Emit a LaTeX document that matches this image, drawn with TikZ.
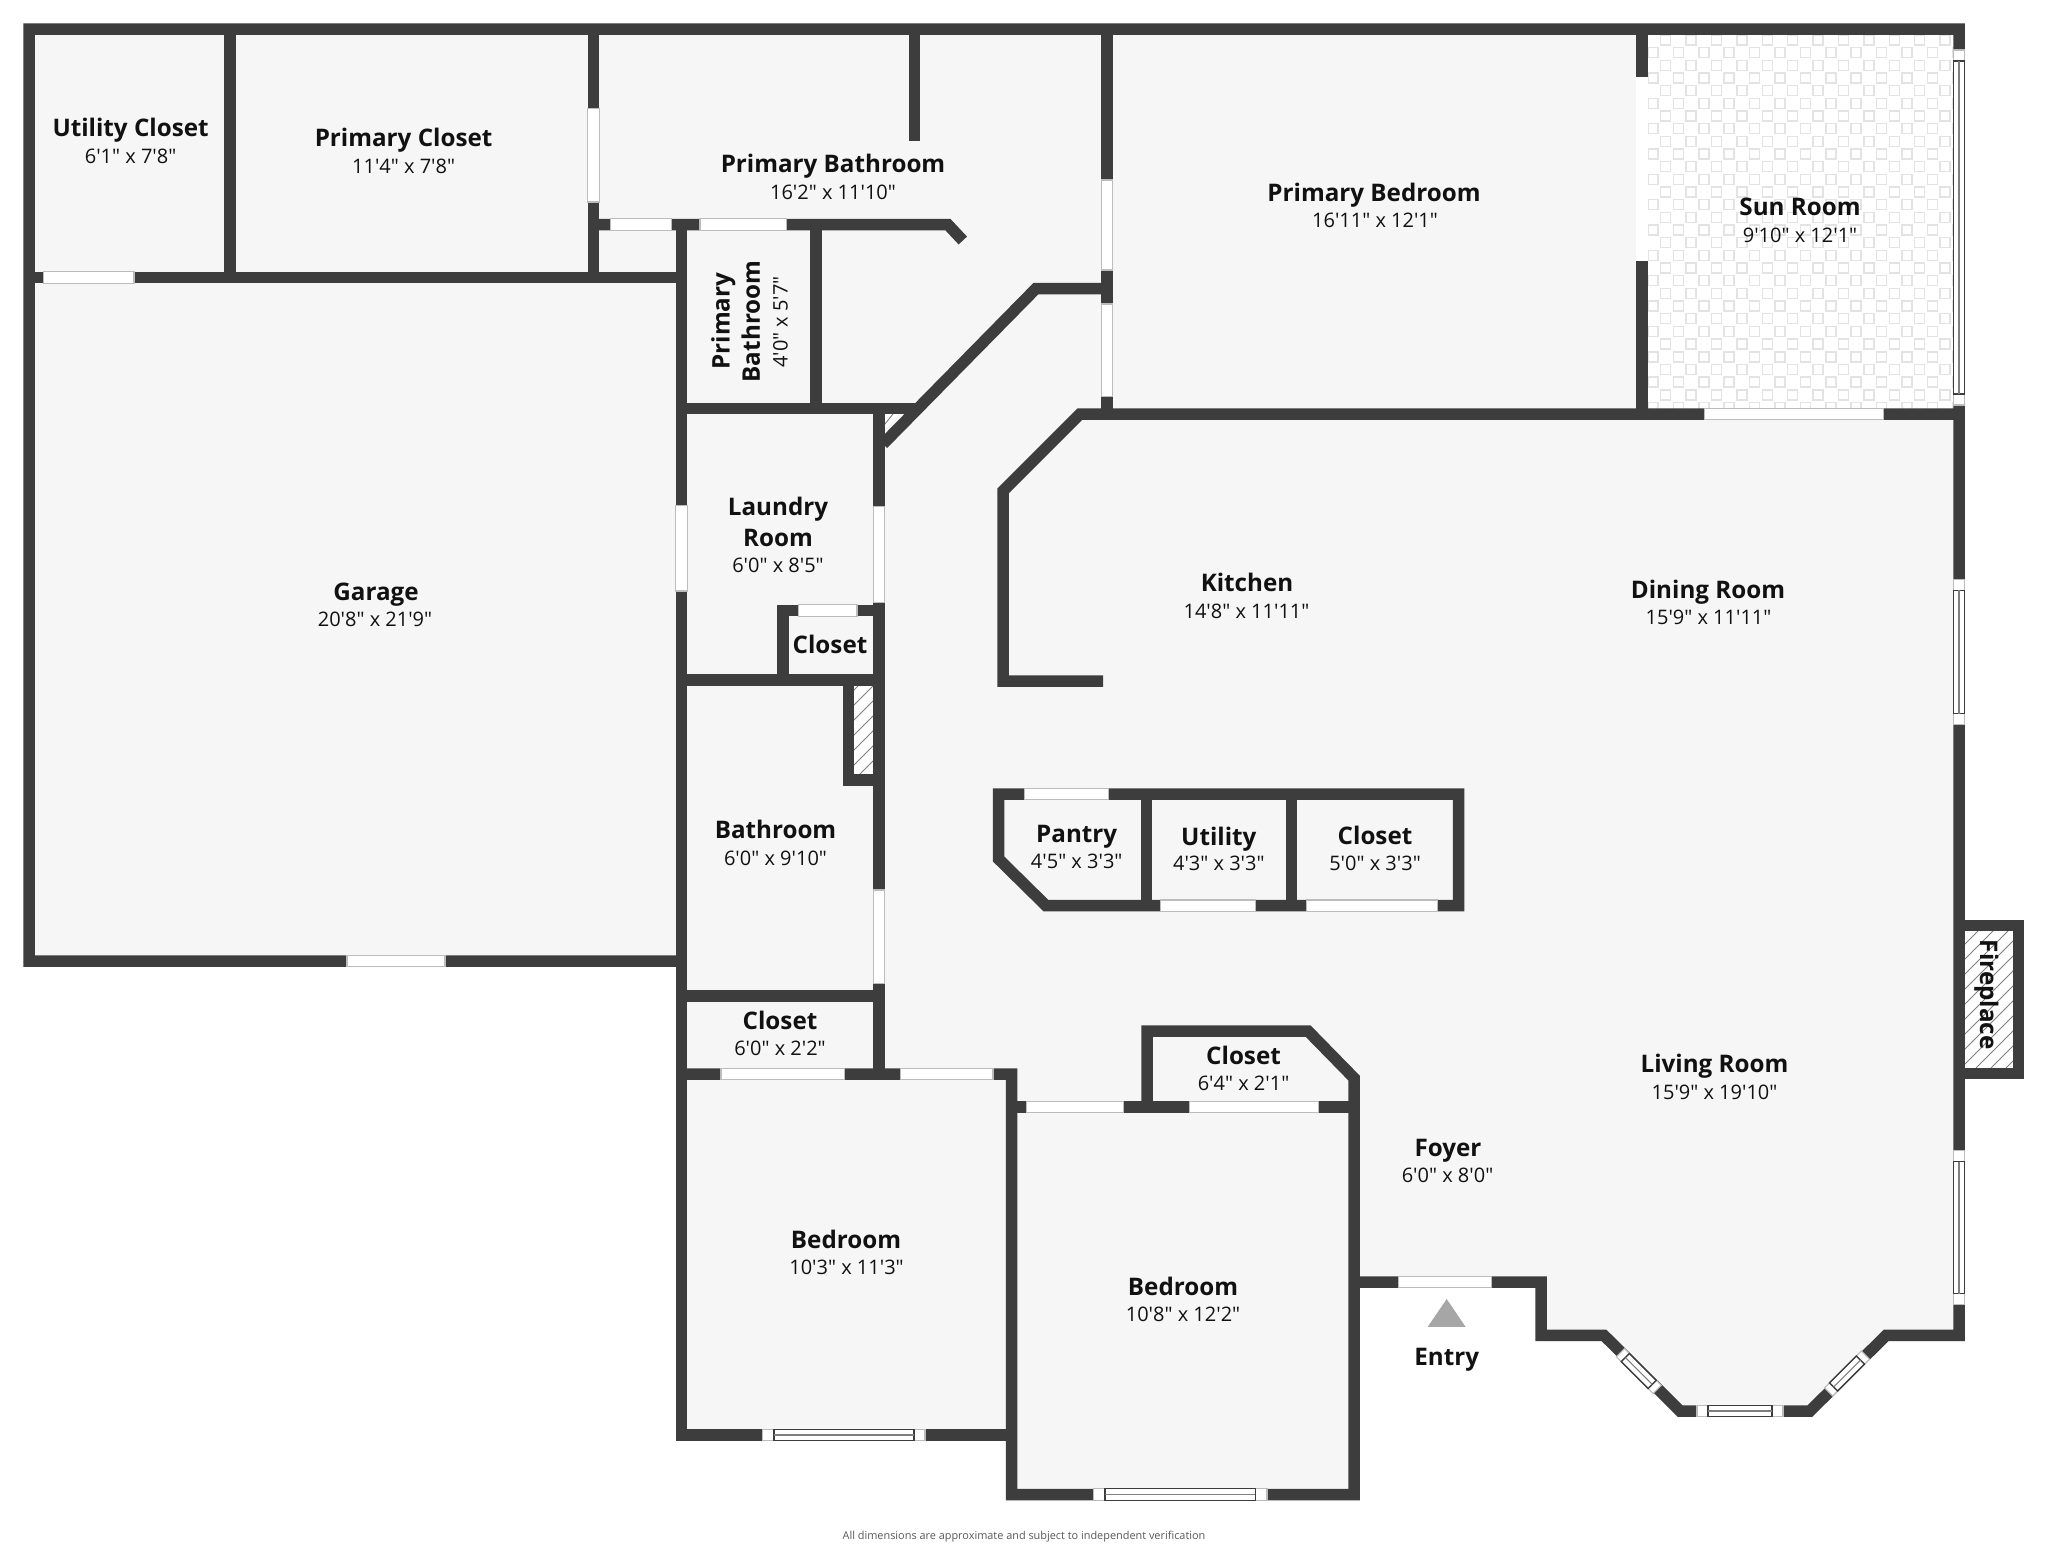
\documentclass[tikz,border=0pt]{standalone}
\usepackage{fontspec}
\newfontfamily\planfont{Open Sans}
\definecolor{wallc}{HTML}{3D3D3D}
\definecolor{floorc}{HTML}{F6F6F6}
\definecolor{edgec}{HTML}{BCBCBC}
\definecolor{tilec}{HTML}{E3E3E3}
\definecolor{hatchc}{HTML}{7F7F7F}
\definecolor{textc}{HTML}{111111}
\tikzset{
  wall/.style={draw=wallc,line width=5.75pt,line join=miter},
  rname/.style={font=\planfont\bfseries\fontsize{12.1}{14}\selectfont,text=textc,inner sep=0pt,text height=8.8pt,text depth=0pt},
  rdim/.style={font=\planfont\fontsize{10}{12}\selectfont,text=textc,inner sep=0pt,text height=7.2pt,text depth=0pt},
  opening/.style={fill=white,draw=edgec,line width=0.55pt},
  winframe/.style={draw=wallc,line width=0.7pt},
  winmid/.style={draw=hatchc,line width=0.55pt},
  hatchline/.style={draw=hatchc,line width=0.45pt},
}
\newcommand{\planwin}[5]{%
  \begin{scope}[shift={(#1,#2)},rotate=#3]
    \path[opening] ({-(#4)/2},-5.75) rectangle ({(#4)/2},5.75);
    \draw[winframe] ({-(#4)/2+#5},-5.75) rectangle ({(#4)/2-#5},5.75);
    \draw[winmid] ({-(#4)/2+#5},0) -- ({(#4)/2-#5},0);
  \end{scope}}
\newcommand{\planhopen}[3]{\path[opening] (#1,#3-5.75) rectangle (#2,#3+5.75);}
\newcommand{\planvopen}[3]{\path[opening] (#3-5.6,#1) rectangle (#3+5.6,#2);}
\begin{document}
\begin{tikzpicture}[x=0.5pt,y=-0.5pt]
\useasboundingbox (0,0) rectangle (2048,1547);
\fill[white] (0,0) rectangle (2048,1547);
% floor
\fill[floorc] (23,23) -- (1965,23) -- (1965,1341) -- (1886,1341) -- (1813,1417) -- (1677,1417) -- (1604,1341) -- (1541,1341) -- (1541,1282) -- (1354,1282) -- (1354,1500) -- (1011,1500) -- (1011,1441) -- (681,1441) -- (681,967) -- (23,967) -- cycle;
% sun room tiles
\fill[white] (1642,29) rectangle (1959,414);
\begin{scope}
  \clip (1648,35) rectangle (1954,408);
  \foreach \r in {0,...,15}{
    \foreach \c in {0,...,12}{
      \pgfmathsetmacro{\xa}{1660.7+25.4*\c}
      \pgfmathsetmacro{\ya}{35+25.34*\r}
      \pgfmathsetmacro{\xb}{1648+25.4*\c}
      \pgfmathsetmacro{\yb}{47.67+25.34*\r}
      \draw[tilec,line width=0.75pt] (\xa,\ya) rectangle ++(10,10);
      \draw[tilec,line width=0.75pt] (\xb,\yb) rectangle ++(10,10);
    }
  }
\end{scope}
% hatched chases
\fill[white] (854,686) rectangle (873.5,774);
\begin{scope}
  \clip (854,686) rectangle (873.5,774);
  \foreach \k in {0,...,9}{
    \pgfmathsetmacro{\xh}{770+15*\k}
    \draw[hatchline] (\xh,774) -- ++(88,-88);
  }
\end{scope}
\fill[white] (1964.5,931.4) rectangle (2013,1068);
\begin{scope}
  \clip (1964.5,931.4) rectangle (2013,1068);
  \foreach \k in {0,...,13}{
    \pgfmathsetmacro{\xh}{1826+15*\k}
    \draw[hatchline] (\xh,1068) -- ++(137,-137);
  }
\end{scope}
\fill[white] (885,414) -- (899,414) -- (885,430) -- cycle;
\draw[hatchline] (885,424) -- (893,414);
% walls
\draw[wall] (681.5,961) -- (29,961) -- (29,29) -- (1959,29) -- (1959,1335.4) -- (1886,1335.4) -- (1810,1411) -- (1680,1411) -- (1604,1335.4) -- (1541,1335.4) -- (1541,1282) -- (1354,1282);
\draw[wall] (29,277.5) -- (681.5,277.5);
\draw[wall] (230,29) -- (230,277.5);
\draw[wall] (593.5,29) -- (593.5,277.5);
\draw[wall] (914.4,29) -- (914.4,140.7);
\draw[wall] (1107,29) -- (1107,414);
\draw[wall] (1642,29) -- (1642,414);
\draw[wall] (593.5,224.5) -- (947.8,224.5) -- (962.8,240.5);
\draw[wall] (681.5,224.5) -- (681.5,1435) -- (1011.5,1435);
\draw[wall] (816,224.5) -- (816,408.5);
\draw[wall] (681.5,408.5) -- (916,408.5);
\draw[wall] (883,444) -- (1036,288.5) -- (1107,288.5);
\draw[wall] (1103,681) -- (1003,681) -- (1003,491) -- (1080,414) -- (1959,414);
\draw[wall] (879,408.5) -- (879,1074);
\draw[wall] (681.5,680) -- (879,680);
\draw[wall] (783,680) -- (783,610.5) -- (884.5,610.5);
\draw[wall] (848.4,680) -- (848.4,780) -- (879,780);
\draw[wall] (681.5,996) -- (879,996);
\draw[wall] (681.5,1074) -- (1011.5,1074) -- (1011.5,1494.5) -- (1354,1494.5) -- (1354,1078) -- (1308,1031) -- (1147,1031) -- (1147,1107);
\draw[wall] (1011.5,1107) -- (1354,1107);
\draw[wall] (998.6,794) -- (1458.5,794) -- (1458.5,905.7) -- (1046,905.7) -- (998.6,859) -- cycle;
\draw[wall] (1146.5,794) -- (1146.5,905.7);
\draw[wall] (1291.5,794) -- (1291.5,905.7);
\draw[wall] (1959,925.5) -- (2018.5,925.5) -- (2018.5,1073.7) -- (1959,1073.7);
% openings
\planhopen{43.8}{134}{277.5}
\planhopen{610.7}{671.4}{224.5}
\planhopen{700}{786.4}{224.5}
\planhopen{1704.6}{1883.6}{414}
\planhopen{347}{445}{961}
\planhopen{798.4}{857}{610.5}
\planhopen{1024.5}{1108.6}{794}
\planhopen{1160.4}{1255.6}{905.7}
\planhopen{1306.7}{1437.3}{905.7}
\planhopen{721}{844.6}{1074}
\planhopen{900.8}{993}{1074}
\planhopen{1026.8}{1123.3}{1107}
\planhopen{1189.7}{1318.6}{1107}
\planhopen{1398.6}{1491.7}{1282}
\planvopen{108.7}{202}{593.5}
\planvopen{180}{270}{1107}
\planvopen{304}{396.7}{1107}
\planvopen{505.7}{591}{681.5}
\planvopen{506.4}{602.5}{879}
\planvopen{890}{983.6}{879}
\fill[white] (1636.4,77) rectangle (1647.6,261);
% windows
\planwin{843.8}{1435}{0}{162.4}{11.2}
\planwin{1180.3}{1494.5}{0}{173.3}{11.5}
\planwin{1740}{1411}{0}{86}{11}
\planwin{1959}{1227.6}{90}{153.9}{11}
\planwin{1959}{652}{90}{145.4}{11}
\planwin{1959}{227.5}{90}{355}{11}
\planwin{1638.8}{1371}{-45}{52}{7}
\planwin{1847}{1373.5}{45}{52}{7}
% entry marker
\fill[gray!70] (1446.7,1299) -- (1465.5,1326.8) -- (1427.7,1326.8) -- cycle;
% labels
\node[rname] (n1) at (130.6,128) {Utility Closet};
\node[rdim] (d1) at (130.6,156) {6'1" x 7'8"};
\node[rname] (n2) at (403.6,138) {Primary Closet};
\node[rdim] (d2) at (403.6,166) {11'4" x 7'8"};
\node[rname] (n3) at (833,164) {Primary Bathroom};
\node[rdim] (d3) at (833,192) {16'2" x 11'10"};
\node[rname] (n4) at (1374,193) {Primary Bedroom};
\node[rdim] (d4) at (1375,220) {16'11" x 12'1"};
\node[rname] (n5) at (1800,207) {Sun Room};
\node[rdim] (d5) at (1800,235) {9'10" x 12'1"};
\node[rname,rotate=90] (n6a) at (720.7,321) {Primary};
\node[rname,rotate=90] (n6b) at (751,321.5) {Bathroom};
\node[rdim,rotate=90] (d6) at (780.5,322) {4'0" x 5'7"};
\node[rname] (n7) at (376,592) {Garage};
\node[rdim] (d7) at (375,619) {20'8" x 21'9"};
\node[rname] (n8a) at (778,506.4) {Laundry};
\node[rname] (n8b) at (778,537.5) {Room};
\node[rdim] (d8) at (778,565) {6'0" x 8'5"};
\node[rname] (n9) at (830,644.6) {Closet};
\node[rname] (n10) at (1247,583) {Kitchen};
\node[rdim] (d10) at (1246.5,611) {14'8" x 11'11"};
\node[rname] (n11) at (1708,590) {Dining Room};
\node[rdim] (d11) at (1708.5,617.5) {15'9" x 11'11"};
\node[rname] (n12) at (775.5,830) {Bathroom};
\node[rdim] (d12) at (775.5,858) {6'0" x 9'10"};
\node[rname] (n13) at (1076.7,834) {Pantry};
\node[rdim] (d13) at (1076.7,861.4) {4'5" x 3'3"};
\node[rname] (n14) at (1218.8,836.4) {Utility};
\node[rdim] (d14) at (1218.8,863.6) {4'3" x 3'3"};
\node[rname] (n15) at (1375,835.7) {Closet};
\node[rdim] (d15) at (1375,863.3) {5'0" x 3'3"};
\node[rname] (n16) at (780,1020.6) {Closet};
\node[rdim] (d16) at (780,1048.7) {6'0" x 2'2"};
\node[rname] (n17) at (1243.5,1056) {Closet};
\node[rdim] (d17) at (1243.5,1083.5) {6'4" x 2'1"};
\node[rname] (n18) at (846,1240) {Bedroom};
\node[rdim] (d18) at (846.5,1267.5) {10'3" x 11'3"};
\node[rname] (n19) at (1183,1286.5) {Bedroom};
\node[rdim] (d19) at (1183,1314) {10'8" x 12'2"};
\node[rname] (n20) at (1714.5,1064) {Living Room};
\node[rdim] (d20) at (1714.5,1092) {15'9" x 19'10"};
\node[rname] (n21) at (1448,1148) {Foyer};
\node[rdim] (d21) at (1447.5,1175.7) {6'0" x 8'0"};
\node[rname] (n22) at (1446.7,1356.4) {Entry};
\node[rname,rotate=-90] (n23) at (1989,994.6) {Fireplace};
\node[font=\planfont\fontsize{5.45}{7}\selectfont,text=black!65,inner sep=0pt] (foot) at (1024,1537) {All dimensions are approximate and subject to independent verification};
\end{tikzpicture}
\end{document}
